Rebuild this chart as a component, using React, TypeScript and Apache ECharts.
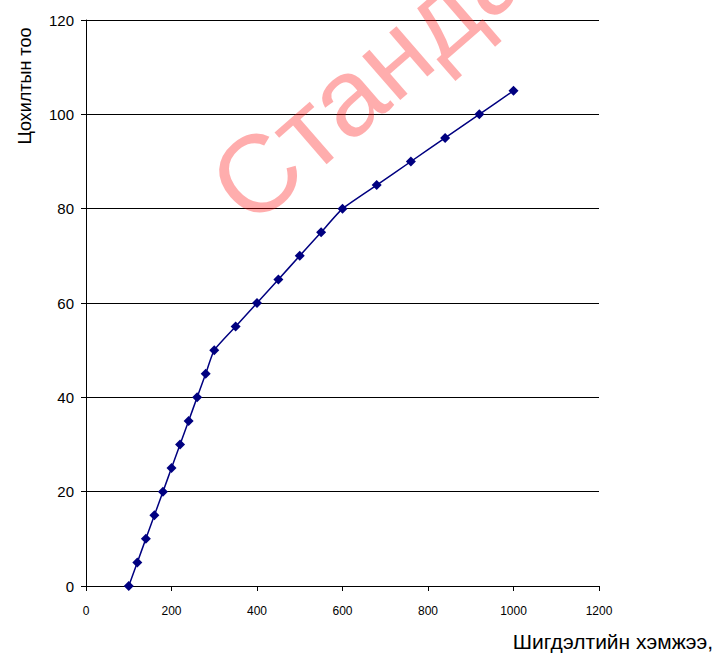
import React, { useEffect, useRef } from "react";
import * as echarts from "echarts";

const xValues = [100, 120, 140, 160, 180, 200, 220, 240, 260, 280, 300, 350, 400, 450, 500, 550, 600, 680, 760, 840, 920, 1000];
const yValues = [0, 5, 10, 15, 20, 25, 30, 35, 40, 45, 50, 55, 60, 65, 70, 75, 80, 85, 90, 95, 100, 105];
const xTitle = "Шигдэлтийн хэмжээ,";
const yTitle = "Цохилтын тоо";
const watermark = "Стандарт";

export default function App() {
  const ref = useRef<HTMLDivElement>(null);
  useEffect(() => {
    if (!ref.current) return;
    const chart = echarts.init(ref.current, null, { renderer: "svg" });
    const font = "'Liberation Sans', Arial, sans-serif";
    chart.setOption({
      animation: false,
      backgroundColor: "#ffffff",
      grid: { left: 86, right: 117, top: 20, bottom: 69 },
      xAxis: {
        type: "value",
        min: 0,
        max: 1200,
        interval: 200,
        axisLine: { show: true, lineStyle: { color: "#000", width: 1 } },
        axisTick: { show: true, inside: false, length: 5, lineStyle: { color: "#000" } },
        axisLabel: {
          color: "#000",
          fontSize: 12,
          fontFamily: font,
          margin: 19,
          formatter: (v: number) => String(v),
        },
        splitLine: { show: false },
      },
      yAxis: {
        type: "value",
        min: 0,
        max: 120,
        interval: 20,
        axisLine: { show: true, lineStyle: { color: "#000", width: 1 } },
        axisTick: { show: true, inside: false, length: 5, lineStyle: { color: "#000" } },
        axisLabel: {
          color: "#000",
          fontSize: 15,
          fontFamily: font,
          margin: 12,
          formatter: (v: number) => String(v),
        },
        splitLine: { show: true, lineStyle: { color: "#000", width: 1 } },
      },
      graphic: [
        {
          type: "text",
          x: 25,
          y: 86,
          rotation: Math.PI / 2,
          style: {
            text: yTitle,
            fontSize: 18,
            fontFamily: font,
            fill: "#000",
            align: "center",
            verticalAlign: "middle",
          },
        },
        {
          type: "text",
          x: 713,
          y: 641,
          style: {
            text: xTitle,
            fontSize: 21,
            fontFamily: font,
            fill: "#000",
            align: "right",
            verticalAlign: "middle",
          },
        },
        {
          type: "text",
          x: 262,
          y: 242,
          rotation: (41 * Math.PI) / 180,
          z: 100,
          style: {
            text: watermark,
            fontSize: 110,
            fontFamily: font,
            fill: "rgba(255,0,0,0.32)",
            align: "left",
            verticalAlign: "bottom",
          },
        },
      ],
      series: [
        {
          type: "line",
          data: xValues.map((x, i) => [x, yValues[i]]),
          symbol: "diamond",
          symbolSize: 10,
          smooth: 0.15,
          lineStyle: { color: "#000080", width: 1.5 },
          itemStyle: { color: "#000080" },
        },
      ],
    });
    return () => chart.dispose();
  }, []);
  return (
    <div
      ref={ref}
      style={{ position: "fixed", left: 0, top: 0, width: 716, height: 655 }}
    />
  );
}
